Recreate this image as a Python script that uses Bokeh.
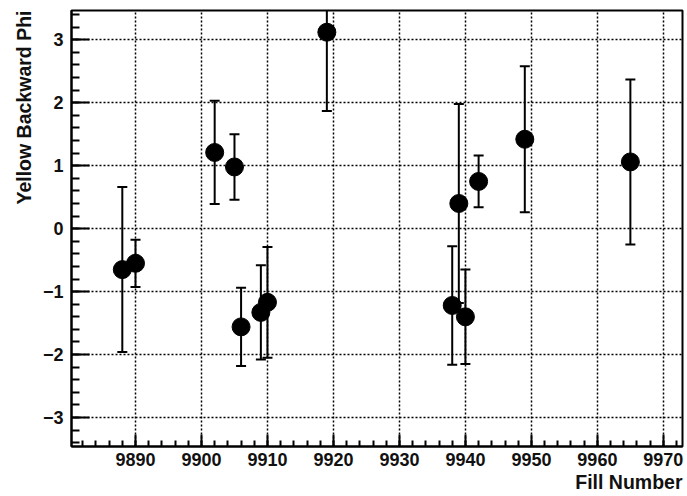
from bokeh.plotting import figure
from bokeh.models import (ColumnDataSource, Range1d, SingleIntervalTicker, Whisker,
                          TeeHead, Title)
from bokeh.embed import file_html
from bokeh.resources import INLINE

# Data
fill_number = [9888, 9890, 9902, 9905, 9906, 9909, 9910, 9919, 9938, 9939, 9940, 9942, 9949, 9965]
phi = [-0.65, -0.55, 1.21, 0.98, -1.56, -1.33, -1.17, 3.12, -1.22, 0.40, -1.40, 0.75, 1.42, 1.06]
phi_err = [1.31, 0.375, 0.82, 0.52, 0.62, 0.75, 0.88, 1.25, 0.94, 1.58, 0.75, 0.41, 1.16, 1.31]

x_title = "Fill Number"
y_title = "Yellow Backward Phi"

FONT = "Liberation Sans"

src = ColumnDataSource(dict(
    x=fill_number,
    y=phi,
    lower=[v - e for v, e in zip(phi, phi_err)],
    upper=[v + e for v, e in zip(phi, phi_err)],
))

p = figure(width=687, height=496, output_backend="svg", toolbar_location=None,
           x_range=Range1d(9880.3, 9972.9), y_range=Range1d(-3.46, 3.465),
           min_border_left=71, min_border_right=5, min_border_top=10, min_border_bottom=50)

p.background_fill_color = "white"
p.border_fill_color = "white"
p.outline_line_color = "black"
p.outline_line_width = 2

p.xaxis.ticker = SingleIntervalTicker(interval=10, num_minor_ticks=5)
p.yaxis.ticker = SingleIntervalTicker(interval=1, num_minor_ticks=5)
p.xgrid.ticker = p.xaxis.ticker
p.ygrid.ticker = p.yaxis.ticker

for ax in (p.xaxis, p.yaxis):
    ax.axis_line_width = 2
    ax.axis_line_color = "black"
    ax.major_tick_line_width = 2
    ax.minor_tick_line_width = 2
    ax.major_tick_line_color = "black"
    ax.minor_tick_line_color = "black"
    ax.major_tick_out = 0
    ax.minor_tick_out = 0
    ax.major_label_text_font = FONT
    ax.major_label_text_font_style = "bold"
    ax.major_label_text_font_size = "18px"
    ax.major_label_text_color = "#111111"

p.xaxis.major_tick_in = 12
p.xaxis.minor_tick_in = 6
p.xaxis.major_label_standoff = 6
p.yaxis.major_tick_in = 18
p.yaxis.minor_tick_in = 8
p.yaxis.major_label_standoff = 8

for g in (p.xgrid, p.ygrid):
    g.grid_line_color = "black"
    g.grid_line_dash = "2 2"
    g.grid_line_width = 1.5

p.add_layout(Title(text=x_title, align="right", text_font=FONT, text_font_style="bold",
                   text_font_size="19.5px", text_color="#111111", standoff=0), "below")
p.add_layout(Title(text=y_title, align="right", text_font=FONT, text_font_style="bold",
                   text_font_size="19.5px", text_color="#111111", standoff=10), "left")

whisk = Whisker(base="x", lower="lower", upper="upper", source=src,
                line_color="black", line_width=2,
                upper_head=TeeHead(size=10, line_width=2, line_color="black"),
                lower_head=TeeHead(size=10, line_width=2, line_color="black"))
p.add_layout(whisk)

p.scatter("x", "y", source=src, marker="circle", size=18, fill_color="black", line_color="black")

open("out.html", "w").write(file_html(p, INLINE))
